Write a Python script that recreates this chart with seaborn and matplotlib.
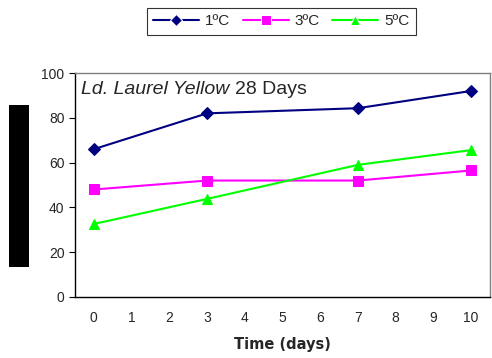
import matplotlib
matplotlib.use("Agg")
import matplotlib.pyplot as plt
import seaborn as sns
import pandas as pd
from matplotlib.patches import Rectangle
from matplotlib.font_manager import FontProperties

days = [0, 3, 7, 10]
t1 = [66, 82, 84.3, 92]
t3 = [48, 52, 52, 56.5]
t5 = [32.6, 43.8, 59, 65.6]
series_names = ["1ºC", "3ºC", "5ºC"]
colors = ["#000080", "#FF00FF", "#00FF00"]
markers = ["D", "s", "^"]
xticks = list(range(0, 11))
yticks = [0, 20, 40, 60, 80, 100]

sns.set_style("ticks")
plt.rcParams['font.family'] = ['Liberation Sans', 'DejaVu Sans']

rows = []
for name, vals in zip(series_names, [t1, t3, t5]):
    for d, v in zip(days, vals):
        rows.append({"Time": d, "Value": v, "Series": name})
df = pd.DataFrame(rows)

fig = plt.figure(figsize=(4.92, 3.58), dpi=100)
ax = fig.add_axes([0.1524, 0.1704, 0.8436, 0.6256])

sns.lineplot(data=df, x="Time", y="Value", hue="Series", style="Series",
             palette=colors, markers=markers, dashes=False, markersize=6.5,
             linewidth=1.5, ax=ax, legend=True)
for line, c in zip(ax.lines, colors):
    line.set_markeredgecolor(c)

ax.set_xlim(-0.5, 10.5)
ax.set_ylim(0, 100)
ax.set_xticks(xticks)
ax.set_yticks(yticks)
ax.tick_params(axis='x', length=0, pad=10, labelsize=10)
ax.tick_params(axis='y', length=4, direction='out', labelsize=10, color='black')
ax.set_xlabel("Time (days)", fontsize=10.5, fontweight='bold', labelpad=9,
              family='DejaVu Sans')
ax.set_ylabel("")
for s in ["left", "bottom"]:
    ax.spines[s].set_color("black")
    ax.spines[s].set_linewidth(1.0)
for s in ["top", "right"]:
    ax.spines[s].set_visible(True)
    ax.spines[s].set_color("#808080")
    ax.spines[s].set_linewidth(1.0)

t_a = ax.text(0.015, 0.965, "Ld. Laurel Yellow", transform=ax.transAxes, fontsize=14,
              style='italic', va='top', ha='left')
fig.canvas.draw()
r = fig.canvas.get_renderer()
bb = t_a.get_window_extent(renderer=r)
x_next = ax.transAxes.inverted().transform((bb.x1 + 5, bb.y1))[0]
ax.text(x_next, 0.965, "28 Days", transform=ax.transAxes, fontsize=14,
        va='top', ha='left')

handles, labels = ax.get_legend_handles_labels()
ax.legend_.remove()
leg = fig.legend(handles, labels, loc='center', bbox_to_anchor=(0.572, 0.94),
                 ncol=3, frameon=True, fancybox=False, edgecolor='black',
                 prop=FontProperties(family='Liberation Sans', size=11),
                 handlelength=3.0, columnspacing=0.8,
                 handletextpad=0.4, borderpad=0.45)
leg.get_frame().set_linewidth(0.8)

fig.patches.append(Rectangle((0.0183, 0.254), 0.0407, 0.4525, transform=fig.transFigure,
                             facecolor='black', edgecolor='none'))

fig.savefig("out.png", dpi=100)
